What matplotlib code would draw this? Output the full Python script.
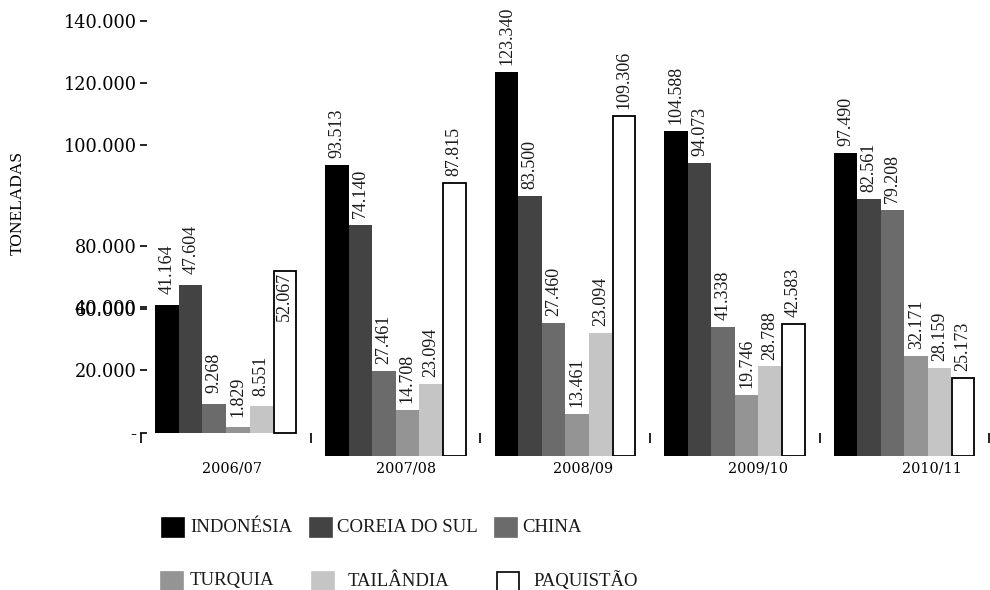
import matplotlib
matplotlib.use("Agg")
import matplotlib.pyplot as plt
from matplotlib.patches import Rectangle
from matplotlib.transforms import blended_transform_factory

safras = ["2006/07", "2007/08", "2008/09", "2009/10", "2010/11"]
paises = ["INDONÉSIA", "COREIA DO SUL", "CHINA", "TURQUIA", "TAILÂNDIA", "PAQUISTÃO"]
cores = ["#000000", "#434343", "#6b6b6b", "#949494", "#c5c5c5", "#ffffff"]

# toneladas (altura das barras como desenhadas)
indonesia = [41164, 93513, 123340, 104588, 97490]
coreia = [47604, 74140, 83500, 94073, 82561]
china = [9268, 27461, 42800, 41338, 79208]
turquia = [1829, 14708, 13461, 19746, 32171]
tailandia = [8551, 23094, 39500, 28788, 28159]
paquistao = [52067, 87815, 109306, 42583, 25173]
series = [indonesia, coreia, china, turquia, tailandia, paquistao]

# rotulos impressos na fonte que nao batem com a barra
rotulos_fonte = {(2, 2): "27.460", (4, 2): "23.094"}

ytick_labels = ["-", "20.000", "40.000", "60.000", "80.000", "100.000", "120.000", "140.000"]
ytick_pos = [7500, 27500, 47800, 47200, 67500, 100000, 120000, 140000]

W, H = 990, 590
plt.rcParams["font.family"] = ["DejaVu Serif"]
fig = plt.figure(figsize=(W / 100, H / 100), dpi=100)

# axes in pixel terms: left 135, right 990, top 15, bottom 456
ax = fig.add_axes([135 / W, (H - 456) / H, 855 / W, 441 / H])
ax.set_xlim((135 - 226) / 169.6, (990 - 226) / 169.6)
ax.set_ylim(0, 441 / 3.11 * 1000)
ax.patch.set_alpha(0)

bw = 0.1386
base = [7500, 0, 0, 0, 0]  # primeiro grupo desenhado deslocado na fonte

for i, (vals, cor) in enumerate(zip(series, cores)):
    xs = [g - 3 * bw + (i + 0.5) * bw for g in range(len(safras))]
    ec = "black" if cor == "#ffffff" else cor
    lw = 1.3 if cor == "#ffffff" else 0
    ax.bar(xs, vals, width=bw if lw == 0 else bw - 0.006, bottom=base,
           color=cor, edgecolor=ec, linewidth=lw)
    for g, (x, v) in enumerate(zip(xs, vals)):
        txt = rotulos_fonte.get((i, g), f"{v:,}".replace(",", "."))
        top = v + base[g]
        if (i, g) == (5, 0):
            ax.annotate(txt, (x, top), xytext=(0, -1), textcoords="offset points",
                        rotation=90, ha="center", va="top", fontsize=13,
                        family="Liberation Serif", color="#1a1a1a")
        else:
            gap = 7.5 if g == 0 else 5
            ax.annotate(txt, (x, top), xytext=(0, gap), textcoords="offset points",
                        rotation=90, ha="center", va="bottom", fontsize=13,
                        family="Liberation Serif", color="#1a1a1a")

for s in ["top", "right"]:
    ax.spines[s].set_visible(False)
ax.spines["left"].set_position(("data", (147 - 226) / 169.6))
ax.spines["left"].set_visible(False)
ax.spines["bottom"].set_position(("data", 7500))
ax.spines["bottom"].set_visible(False)

ax.set_yticks(ytick_pos)
ax.set_yticklabels(ytick_labels, fontsize=12.8)
ax.tick_params(axis="y", length=5, width=1.2, pad=2.5, color="black")

ax.set_xticks([g - 0.5 for g in range(len(safras) + 1)])
ax.set_xticklabels([])
ax.tick_params(axis="x", length=7, width=1.2, direction="out", color="black")

# rotulos das safras ficam deslocados para a direita na fonte (em px)
desloc = [6, 10, 18, 23, 28]
tr = blended_transform_factory(ax.transData, fig.transFigure)
for g, (s, dx) in enumerate(zip(safras, desloc)):
    ax.annotate(s, (g, 1 - 468 / H), xycoords=tr, xytext=(dx * 0.72, 0),
                textcoords="offset points", ha="center", va="center", fontsize=10.4)

fig.text(18 / W, 1 - 203 / H, "TONELADAS", rotation=90, ha="center", va="center",
         fontsize=12.5, family="Liberation Serif")

# legenda manual
leg_pos = [(162, 190, 527), (310, 337, 527), (495, 522, 527),
           (161, 190, 581), (312, 348, 581), (497, 533, 581)]
for nome, cor, (xq, xt, yc) in zip(paises, cores, leg_pos):
    ec = "black" if cor == "#ffffff" else cor
    fig.add_artist(Rectangle((xq / W, 1 - (yc + 9.5) / H), 22 / W, 19 / H,
                             transform=fig.transFigure, facecolor=cor,
                             edgecolor=ec, linewidth=1.2))
    fig.text(xt / W, 1 - yc / H, nome, ha="left", va="center", fontsize=13.5,
             family="Liberation Serif", color="#1a1a1a")

fig.savefig("out.png", dpi=100)
